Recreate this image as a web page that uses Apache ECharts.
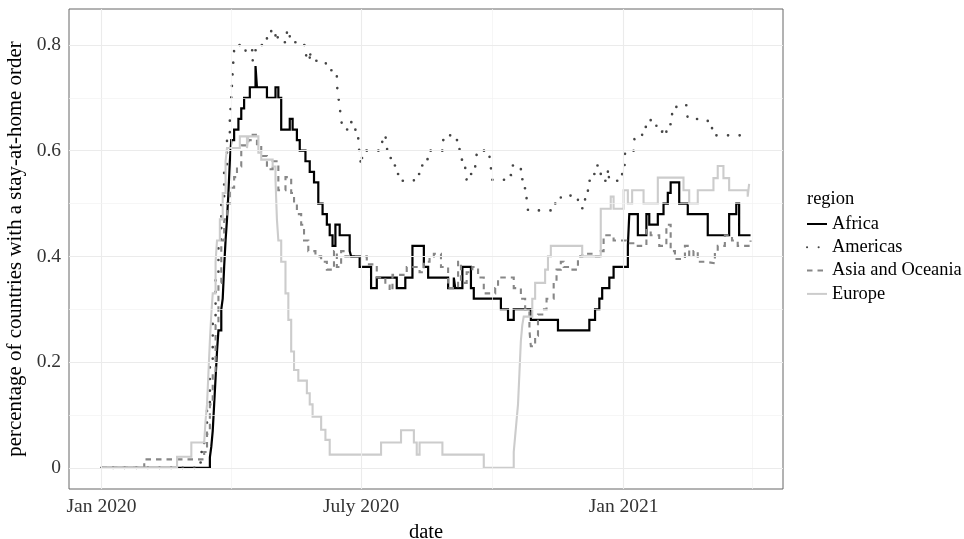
<!DOCTYPE html>
<html>
<head>
<meta charset="utf-8">
<script src="https://cdn.jsdelivr.net/npm/echarts@6/dist/echarts.min.js"></script>
<style>html,body{margin:0;padding:0;background:#fff}#c{width:964px;height:539px}</style>
</head>
<body>
<div id="c"></div>
<script>
// Days since 2020-01-01, value = share of countries with a stay-at-home order
const xTickDays = [0, 182, 366];
const xTickLabels = ['Jan 2020', 'July 2020', 'Jan 2021'];
const xMinorDays = [91, 274, 456];
const yTicks = [0, 0.2, 0.4, 0.6, 0.8];
const yMinor = [0.1, 0.3, 0.5, 0.7];
const regions = ['Africa', 'Americas', 'Asia and Oceania', 'Europe'];

const africa = [[0,0],[76,0.02],[77,0.04],[78,0.07],[79,0.12],[80,0.17],[81,0.22],[82,0.26],[84,0.30],[85,0.32],[86,0.38],[87,0.43],[88,0.47],[89,0.52],[90,0.58],[91,0.62],[93,0.64],[96,0.66],[98,0.68],[100,0.70],[104,0.72],[108,0.76],[109,0.72],[116,0.70],[122,0.72],[124,0.70],[126,0.64],[132,0.66],[134,0.64],[137,0.62],[139,0.60],[143,0.58],[146,0.56],[149,0.54],[152,0.50],[155,0.48],[158,0.46],[160,0.44],[162,0.42],[164,0.46],[167,0.44],[174,0.41],[175,0.40],[181,0.38],[189,0.34],[193,0.36],[207,0.34],[213,0.36],[218,0.42],[226,0.38],[229,0.36],[243,0.34],[247,0.36],[248,0.34],[253,0.38],[259,0.34],[261,0.32],[280,0.30],[285,0.28],[289,0.30],[301,0.28],[320,0.26],[342,0.28],[346,0.30],[349,0.32],[351,0.34],[356,0.36],[359,0.38],[369,0.42],[370,0.48],[376,0.44],[382,0.48],[384,0.46],[390,0.48],[394,0.50],[397,0.52],[399,0.54],[405,0.50],[411,0.48],[425,0.44],[440,0.48],[445,0.50],[447,0.44],[455,0.44]];

const americas = [[0,0],[68,0.01],[70,0.03],[72,0.06],[74,0.12],[76,0.20],[78,0.28],[80,0.36],[82,0.43],[84,0.50],[86,0.57],[88,0.62],[90,0.66],[91,0.70],[92,0.75],[93,0.79],[96,0.80],[101,0.785],[104,0.79],[106,0.77],[107,0.79],[112,0.80],[116,0.813],[119,0.829],[122,0.817],[123,0.826],[124,0.805],[130,0.828],[132,0.805],[136,0.80],[143,0.79],[144,0.77],[146,0.79],[147,0.77],[157,0.77],[158,0.752],[163,0.744],[165,0.725],[166,0.703],[167,0.682],[168,0.66],[169,0.64],[173,0.654],[178,0.632],[180,0.614],[181,0.594],[182,0.572],[183,0.594],[186,0.60],[196,0.60],[197,0.62],[199,0.629],[200,0.608],[201,0.586],[203,0.572],[206,0.556],[209,0.543],[219,0.556],[223,0.572],[227,0.584],[230,0.60],[239,0.62],[243,0.629],[249,0.62],[251,0.60],[252,0.583],[255,0.566],[256,0.544],[259,0.556],[262,0.572],[263,0.593],[265,0.60],[272,0.589],[273,0.567],[274,0.545],[284,0.554],[287,0.572],[294,0.546],[296,0.529],[298,0.509],[299,0.487],[318,0.50],[322,0.515],[334,0.505],[335,0.491],[339,0.524],[341,0.543],[344,0.556],[347,0.572],[350,0.556],[353,0.543],[355,0.566],[356,0.543],[362,0.553],[365,0.573],[367,0.595],[373,0.61],[374,0.629],[379,0.645],[382,0.645],[385,0.658],[389,0.636],[393,0.629],[396,0.65],[400,0.671],[403,0.686],[410,0.682],[411,0.66],[420,0.658],[425,0.65],[428,0.629],[455,0.629]];

const asia = [[0,0],[30,0.016],[72,0.03],[74,0.07],[76,0.12],[78,0.18],[80,0.27],[82,0.35],[84,0.43],[86,0.47],[88,0.50],[90,0.53],[93,0.55],[95,0.57],[98,0.61],[103,0.62],[106,0.63],[109,0.61],[112,0.59],[116,0.565],[120,0.58],[124,0.525],[129,0.55],[133,0.52],[135,0.50],[137,0.48],[140,0.46],[142,0.43],[145,0.41],[150,0.40],[154,0.39],[158,0.375],[163,0.41],[165,0.38],[168,0.41],[171,0.40],[186,0.385],[193,0.36],[199,0.345],[202,0.335],[204,0.365],[214,0.38],[223,0.37],[226,0.39],[230,0.40],[233,0.405],[238,0.38],[243,0.34],[250,0.39],[252,0.35],[256,0.37],[260,0.38],[264,0.36],[268,0.33],[276,0.34],[278,0.36],[289,0.34],[294,0.32],[297,0.30],[300,0.26],[301,0.23],[304,0.25],[306,0.29],[309,0.30],[312,0.32],[317,0.35],[319,0.375],[322,0.39],[324,0.38],[328,0.375],[334,0.40],[337,0.405],[345,0.40],[350,0.41],[352,0.44],[359,0.43],[368,0.425],[374,0.42],[382,0.45],[385,0.44],[391,0.42],[396,0.46],[399,0.41],[402,0.395],[409,0.42],[412,0.40],[415,0.41],[418,0.39],[423,0.387],[430,0.41],[432,0.42],[437,0.44],[442,0.43],[446,0.42],[452,0.42],[455,0.43]];

const europe = [[0,0],[53,0.021],[63,0.048],[72,0.048],[73,0.09],[74,0.12],[75,0.18],[76,0.24],[77,0.29],[78,0.33],[80,0.39],[81,0.43],[83,0.47],[85,0.52],[87,0.58],[88,0.605],[97,0.627],[102,0.605],[103,0.627],[110,0.596],[112,0.583],[120,0.57],[122,0.545],[123,0.47],[124,0.43],[126,0.39],[129,0.33],[131,0.28],[133,0.22],[135,0.185],[138,0.165],[144,0.141],[146,0.12],[148,0.097],[154,0.072],[157,0.053],[160,0.025],[196,0.048],[210,0.071],[219,0.048],[221,0.025],[223,0.048],[239,0.025],[268,0],[289,0.03],[290,0.06],[291,0.09],[292,0.12],[293,0.18],[294,0.24],[295,0.27],[296,0.286],[302,0.32],[304,0.35],[308,0.35],[311,0.375],[313,0.40],[315,0.42],[337,0.40],[350,0.49],[357,0.513],[359,0.49],[366,0.525],[369,0.50],[372,0.525],[380,0.50],[390,0.549],[408,0.525],[412,0.50],[418,0.525],[429,0.548],[432,0.571],[436,0.548],[440,0.525],[453,0.513],[454,0.537]];

const FONT = 'Liberation Serif';
const chart = echarts.init(document.getElementById('c'), null, {renderer: 'canvas'});

const gridLines = [];
xTickDays.forEach(d => gridLines.push({xAxis: d, lineStyle: {color: '#ebebeb', width: 1.1, type: 'solid'}}));
xMinorDays.forEach(d => gridLines.push({xAxis: d, lineStyle: {color: '#f2f2f2', width: 0.7, type: 'solid'}}));
yTicks.forEach(v => gridLines.push({yAxis: v, lineStyle: {color: '#ebebeb', width: 1.1, type: 'solid'}}));
yMinor.forEach(v => gridLines.push({yAxis: v, lineStyle: {color: '#f2f2f2', width: 0.7, type: 'solid'}}));

function lineSeries(name, data, color, width, type, cap) {
  return {
    name: name, type: 'line', data: data, step: 'end', symbol: 'none',
    showSymbol: false, z: 3,
    lineStyle: {color: color, width: width, type: type, cap: cap || 'butt', join: 'miter'},
    itemStyle: {color: color}
  };
}

chart.setOption({
  animation: false,
  backgroundColor: '#ffffff',
  title: {text: 'region', left: 807, top: 190, padding: 0,
    textStyle: {fontFamily: FONT, fontSize: 18.5, fontWeight: 'normal', color: '#000'}},
  legend: {
    data: regions, orient: 'vertical', left: 806, top: 215, padding: 0,
    itemWidth: 20, itemHeight: 14, itemGap: 5.3,
    itemStyle: {opacity: 0},
    textStyle: {fontFamily: FONT, fontSize: 18.4, color: '#000'},
    selectedMode: false
  },
  grid: {left: 69, top: 9, width: 714, height: 480, outerBoundsMode: 'none', containLabel: false,
    show: true, borderColor: '#666', borderWidth: 1, backgroundColor: '#fff'},
  xAxis: {
    type: 'value', min: -22.75, max: 477.75,
    name: 'date', nameLocation: 'middle', nameGap: 31,
    nameTextStyle: {fontFamily: FONT, fontSize: 20.5, color: '#000'},
    axisLine: {show: false},
    axisTick: {show: true, length: 4, lineStyle: {color: '#333'}, customValues: xTickDays},
    axisLabel: {fontFamily: FONT, fontSize: 19.5, color: '#333', margin: 8, customValues: xTickDays,
      formatter: v => { const i = xTickDays.indexOf(v); return i >= 0 ? xTickLabels[i] : ''; }},
    splitLine: {show: false}
  },
  yAxis: {
    type: 'value', min: -0.04, max: 0.868,
    name: 'percentage of countries with a stay-at-home order', nameLocation: 'middle', nameGap: 41,
    nameTextStyle: {fontFamily: FONT, fontSize: 20.9, color: '#000'},
    axisLine: {show: false},
    axisTick: {show: true, length: 4, lineStyle: {color: '#333'}, customValues: yTicks},
    axisLabel: {fontFamily: FONT, fontSize: 19.5, color: '#333', margin: 8, customValues: yTicks,
      formatter: v => String(v)},
    splitLine: {show: false}
  },
  series: [
    {name: 'grid', type: 'line', data: [], z: 1, silent: true,
     markLine: {silent: true, symbol: ['none', 'none'], label: {show: false}, animation: false, data: gridLines}},
    lineSeries('Africa', africa, '#000000', 2.2, 'solid'),
    lineSeries('Americas', americas, '#454545', 2.6, [0.1, 11.5], 'round'),
    lineSeries('Asia and Oceania', asia, '#878787', 2.1, [5.5, 5]),
    lineSeries('Europe', europe, '#cccccc', 2.1, 'solid')
  ]
});
</script>
</body>
</html>
